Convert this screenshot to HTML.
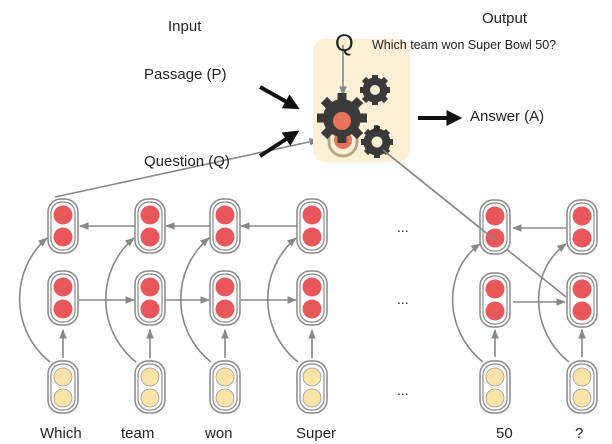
<!DOCTYPE html>
<html><head><style>body{margin:0;background:#fff}svg{display:block}text{font-family:"Liberation Sans",sans-serif;fill:#222}</style></head><body>
<svg width="612" height="444" viewBox="0 0 612 444" xmlns="http://www.w3.org/2000/svg">
<defs>
<marker id="a" viewBox="0 0 10 10" refX="9" refY="5" markerWidth="6" markerHeight="6" orient="auto"><path d="M0,1 L10,5 L0,9 z" fill="#888"/></marker>
<marker id="b" viewBox="0 0 10 10" refX="6" refY="5" markerWidth="4" markerHeight="4" orient="auto"><path d="M0,0 L10,5 L0,10 z" fill="#111"/></marker>
<g id="cr"><rect x="-15" y="-27" width="30" height="54" rx="13" fill="#fff" stroke="#888" stroke-width="1.5"/><rect x="-12" y="-24" width="24" height="48" rx="11" fill="none" stroke="#888" stroke-width="1.2"/><circle cx="0" cy="-11" r="9.5" fill="#e8575a"/><circle cx="0" cy="11" r="9.5" fill="#e8575a"/></g>
<g id="cy"><rect x="-15" y="-26" width="30" height="52" rx="13" fill="#fff" stroke="#888" stroke-width="1.5"/><rect x="-12" y="-23" width="24" height="46" rx="11" fill="none" stroke="#888" stroke-width="1.2"/><circle cx="0" cy="-10" r="9" fill="#fde3a7" stroke="#999" stroke-width="0.8"/><circle cx="0" cy="11" r="9" fill="#fde3a7" stroke="#999" stroke-width="0.8"/></g>
</defs>
<g stroke="#888" stroke-width="1.6" fill="none" marker-end="url(#a)">
<path d="M50,362 C10,330 10,270 47,238"/>
<path d="M136,362 C96,330 96,270 134,238"/>
<path d="M211,362 C171,330 171,270 209,238"/>
<path d="M298,362 C258,330 258,270 296,238"/>
<path d="M483,362 C443,330 443,270 480,244"/>
<path d="M569,362 C529,330 529,270 566,244"/>
<path d="M135,226 H80"/><path d="M210,226 H166"/><path d="M297,226 H241"/><path d="M566,228 H513"/>
<path d="M79,300 H134"/><path d="M165,300 H209"/><path d="M241,300 H296"/><path d="M513,302 H565"/>
<path d="M63,358 V330"/><path d="M150,358 V330"/><path d="M225,358 V330"/><path d="M312,358 V330"/><path d="M495,357 V330"/><path d="M582,357 V330"/>
<path d="M55,197 L318,140"/>
</g>
<rect x="313" y="39" width="97" height="123" rx="12" fill="#fdf0d6"/>
<line x1="383" y1="150" x2="566" y2="297" stroke="#888" stroke-width="1.6"/>
<g stroke="#888" fill="none" stroke-width="1.6"><path d="M343,45 V95" marker-end="url(#a)"/><path d="M329,128 V142 a14,14 0 0 0 28,0 V128" stroke="#b5a98a" stroke-width="3"/></g>
<circle cx="343" cy="140" r="9" fill="#e8735a"/>
<g fill="#3a3a3a">
<circle cx="342" cy="118" r="19"/>
<g stroke="#3a3a3a" stroke-width="9"><line x1="342" y1="93" x2="342" y2="143"/><line x1="317" y1="118" x2="367" y2="118"/><line x1="324" y1="100" x2="360" y2="136"/><line x1="360" y1="100" x2="324" y2="136"/></g>
</g>
<circle cx="342" cy="121" r="9" fill="#e8735a"/>
<g fill="none" stroke="#3a3a3a">
<circle cx="375" cy="90" r="9" stroke-width="7"/>
<g stroke-width="6"><line x1="375" y1="75" x2="375" y2="105"/><line x1="360" y1="90" x2="390" y2="90"/><line x1="364" y1="79" x2="386" y2="101"/><line x1="386" y1="79" x2="364" y2="101"/></g>
<circle cx="375" cy="90" r="5" fill="#fdf0d6" stroke="none"/>
<circle cx="377" cy="142" r="10" stroke-width="7"/>
<g stroke-width="6"><line x1="377" y1="126" x2="377" y2="158"/><line x1="361" y1="142" x2="393" y2="142"/><line x1="366" y1="131" x2="388" y2="153"/><line x1="388" y1="131" x2="366" y2="153"/></g>
<circle cx="377" cy="142" r="5.5" fill="#fdf0d6" stroke="none"/>
</g>
<text x="373" y="131" font-size="13" style="font-family:'Liberation Serif',serif;font-weight:bold">a</text>
<g stroke="#111" stroke-width="4" marker-end="url(#b)"><line x1="260" y1="87" x2="294" y2="106"/><line x1="260" y1="156" x2="294" y2="134"/><line x1="418" y1="118" x2="456" y2="118"/></g>
<use href="#cr" x="63" y="226"/><use href="#cr" x="150" y="226"/><use href="#cr" x="225" y="226"/><use href="#cr" x="312" y="226"/><use href="#cr" x="495" y="227"/><use href="#cr" x="582" y="227"/>
<use href="#cr" x="63" y="298"/><use href="#cr" x="150" y="298"/><use href="#cr" x="225" y="298"/><use href="#cr" x="312" y="298"/><use href="#cr" x="495" y="300"/><use href="#cr" x="582" y="300"/>
<use href="#cy" x="63" y="387"/><use href="#cy" x="150" y="387"/><use href="#cy" x="225" y="387"/><use href="#cy" x="312" y="387"/><use href="#cy" x="495" y="387"/><use href="#cy" x="582" y="387"/>
<line x1="383" y1="150" x2="495" y2="240" stroke="#888" stroke-width="1.6"/>
<text x="168" y="31" font-size="15">Input</text>
<text x="482" y="23" font-size="15">Output</text>
<text x="335" y="51" font-size="24">Q</text>
<text x="372" y="49" font-size="12.5">Which team won Super Bowl 50?</text>
<text x="144" y="79" font-size="15">Passage (P)</text>
<text x="144" y="166" font-size="15">Question (Q)</text>
<text x="470" y="121" font-size="15">Answer (A)</text>
<g font-size="14"><text x="397" y="232">...</text><text x="397" y="304">...</text><text x="397" y="395">...</text></g>
<g font-size="15"><text x="40" y="438">Which</text><text x="121" y="438">team</text><text x="205" y="438">won</text><text x="296" y="438">Super</text><text x="496" y="438">50</text><text x="575" y="438">?</text></g>
</svg>
</body></html>
